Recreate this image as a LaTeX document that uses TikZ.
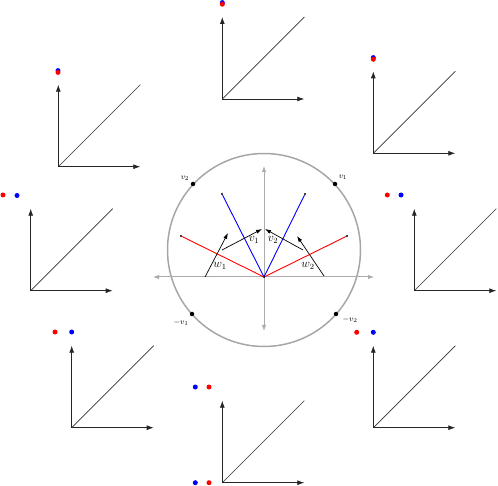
\documentclass[tikz,border=0pt]{standalone}
\usetikzlibrary{arrows.meta}
\begin{document}
\begin{tikzpicture}[x=1pt,y=-1pt,
  axisg/.style={draw=black!33, line width=1pt, {Latex[length=6pt,width=4.5pt]}-{Latex[length=6pt,width=4.5pt]}},
  ring/.style={draw=black!35, line width=1.5pt},
  redv/.style={draw=red, line width=0.9pt},
  bluev/.style={draw=blue, line width=0.9pt},
  warrow/.style={draw=black, line width=0.7pt, -{Latex[length=6pt,width=4pt]}},
  pax/.style={draw=black!85, line width=0.8pt, -{Latex[length=7pt,width=5pt]}},
  pdiag/.style={draw=black!80, line width=0.7pt},
  cdot/.style={circle, fill=black, inner sep=0pt, minimum size=4.5pt},
  tipdot/.style={circle, fill=black, inner sep=0pt, minimum size=2.2pt},
  rdot/.style={circle, fill=red, inner sep=0pt, minimum size=5pt},
  bdot/.style={circle, fill=blue, inner sep=0pt, minimum size=5pt},
  biglab/.style={font=\large, inner sep=0pt},
  smlab/.style={font=\footnotesize, inner sep=0pt}]
\useasboundingbox (0,0) rectangle (498,486);

% ---- central figure ----
\coordinate (cc) at (264,250);
\draw[ring] (cc) circle (96.5);
\coordinate (hl) at (153,277);
\coordinate (hr) at (374,277);
\coordinate (vt) at (264,166);
\coordinate (vb) at (264,331);
\draw[axisg] (hl) -- (hr);
\draw[axisg] (vt) -- (vb);
\coordinate (o) at (264,277);

\node[tipdot] (r1) at (181,236) {};
\node[tipdot] (r2) at (347,236) {};
\node[tipdot] (b1) at (222,194) {};
\node[tipdot] (b2) at (305,194) {};
\draw[redv] (o) -- (r1);
\draw[redv] (o) -- (r2);
\draw[bluev] (o) -- (b1);
\draw[bluev] (o) -- (b2);
\node[circle, fill=black, inner sep=0pt, minimum size=2pt] (od) at (o) {};

\coordinate (w1s) at (205,277);
\coordinate (w1e) at (228,233);
\coordinate (v1s) at (222,250);
\coordinate (v1e) at (262,229);
\coordinate (v2s) at (303,250);
\coordinate (v2e) at (265,229);
\coordinate (w2s) at (324,276);
\coordinate (w2e) at (297,236);
\draw[warrow] (w1s) -- (w1e);
\draw[warrow] (v1s) -- (v1e);
\draw[warrow] (v2s) -- (v2e);
\draw[warrow] (w2s) -- (w2e);
\node[biglab] (lw1) at (220,266) {$w_1$};
\node[biglab] (lv1) at (254,240) {$v_1$};
\node[biglab] (lv2) at (273,240) {$v_2$};
\node[biglab] (lw2) at (308,266) {$w_2$};

\node[cdot] (pv2) at (193,184) {};
\node[cdot] (pv1) at (335,184) {};
\node[cdot] (pmv1) at (192,314) {};
\node[cdot] (pmv2) at (336,314) {};
\node[smlab] (lpv2) at (185,178) {$v_2$};
\node[smlab] (lpv1) at (343,177) {$v_1$};
\node[smlab] (lpmv1) at (181,323) {$-v_1$};
\node[smlab] (lpmv2) at (350,320) {$-v_2$};

% ---- small plots ----
\foreach \nm/\ox/\oy in {pa/222.3/99, pb/373.3/153.3, pc/414.3/290.7, pd/373.3/427.7,
                         pe/222.3/482.7, pf/71.7/427.7, pg/30.7/290.7, ph/58.3/166.7}{
  \begin{scope}[shift={(\ox,\oy)}]
    \coordinate (\nm o) at (0,0);
    \coordinate (\nm x) at (82,0);
    \coordinate (\nm y) at (0,-82);
    \coordinate (\nm d) at (82,-82);
    \draw[pdiag] (\nm o) -- (\nm d);
    \draw[pax] (\nm o) -- (\nm x);
    \draw[pax] (\nm o) -- (\nm y);
  \end{scope}
}

% dots
\node[bdot] (dab) at (222.3,2.6) {};
\node[rdot] (dar) at (222.3,4.2) {};
\node[bdot] (dbb) at (373.3,57.6) {};
\node[rdot] (dbr) at (373.3,59.3) {};
\node[rdot] (dcr) at (387.3,195) {};
\node[bdot] (dcb) at (401,195) {};
\node[rdot] (ddr) at (356.7,332.3) {};
\node[bdot] (ddb) at (373.3,332.3) {};
\node[bdot] (deb) at (195.3,387) {};
\node[rdot] (der) at (209,387) {};
\node[bdot] (de2b) at (195.3,482.7) {};
\node[rdot] (de2r) at (209,482.7) {};
\node[rdot] (dfr) at (55,332) {};
\node[bdot] (dfb) at (71.7,332) {};
\node[rdot] (dgr) at (3,195) {};
\node[bdot] (dgb) at (17,195.5) {};
\node[bdot] (dhb) at (58,70.6) {};
\node[rdot] (dhr) at (58,72.4) {};
\end{tikzpicture}
\end{document}
